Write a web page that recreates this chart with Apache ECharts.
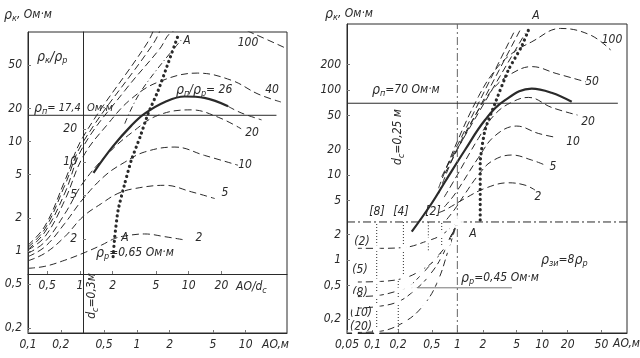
<!DOCTYPE html>
<html><head><meta charset="utf-8">
<script src="https://cdn.jsdelivr.net/npm/echarts@6/dist/echarts.min.js"></script>
<style>html,body{margin:0;padding:0;background:#fff}#c{width:640px;height:358px}</style>
</head><body><div id="c"></div>
<script>
// ---------- tick labels ----------
const L_xTicks = [0.1, 0.2, 0.5, 1, 2, 5, 10];
const L_yTicks = [0.2, 0.5, 1, 2, 5, 10, 20, 50];
const L_xInnerTicks = [0.5, 1, 2, 5, 10, 20];
const L_yInnerTicks = [2, 5, 10, 20];
const R_xTicks = [0.05, 0.1, 0.2, 0.5, 1, 2, 5, 10, 20, 50];
const R_yTicks = [0.2, 0.5, 1, 2, 5, 10, 20, 50, 100, 200];
// ---------- constants written on the chart ----------
const dcLeft = 0.3, rhoRLeft = 0.65, rhoPLeft = 17.4;
const rhoPRight = 70, rhoRRight = 0.47;
// ---------- left panel curves: [AO, rho_k] ----------
const L_c2 = [[0.1,0.70],[0.143,0.73],[0.218,0.83],[0.32,0.96],[0.474,1.14],[0.627,1.31],[0.775,1.38],[1.18,1.44],[1.81,1.36],[2.75,1.27]];
const L_c5 = [[0.1,0.82],[0.143,0.96],[0.218,1.36],[0.32,2.07],[0.474,2.73],[0.67,3.37],[0.96,3.74],[1.81,4.0],[3.17,3.49],[5.2,3.03]];
const L_c10 = [[0.1,0.895],[0.143,1.10],[0.218,1.8],[0.32,3.0],[0.51,4.9],[0.775,6.5],[1.18,8.05],[2.24,8.93],[4.18,7.5],[8.5,6.1]];
const L_c20 = [[0.1,0.96],[0.143,1.22],[0.218,2.2],[0.32,4.2],[0.545,7.8],[0.89,12.0],[1.57,17.4],[3.17,19.5],[5.6,16.7],[9.1,13.1]];
const L_c26 = [[0.40,5.2],[0.6,9.0],[0.89,14.0],[1.18,18.0],[1.81,23.0],[2.75,25.8],[4.18,25.1],[6.9,21.0]];
const L_c26tail = [[6.9,21.0],[9.1,18.3],[14,15.8]];
const L_c40 = [[0.1,1.03],[0.143,1.36],[0.218,2.93],[0.32,7.27],[0.545,14.6],[0.89,24.6],[1.57,34.9],[3.6,42.2],[7.4,36.3],[13.0,27.2],[21.1,23.0]];
const L_c100 = [[0.1,1.04],[0.143,1.5],[0.218,3.4],[0.32,8.95],[0.775,29.2],[1.62,70],[2.08,99.5],[3.2,112],[5.5,118],[8.5,110],[12,96],[24.3,70]];
const L_s1 = [[0.1,1.14],[0.143,1.7],[0.218,4.4],[0.32,11.0],[1.23,77.7],[1.46,110]];
const L_s2 = [[0.1,1.09],[0.143,1.6],[0.218,4.0],[0.32,9.9],[1.41,77.7],[1.68,110]];
const L_sA = [[0.775,14.6],[1.1,29.2],[2.6,86]];
const L_locusA = [[0.606,0.895],[0.627,1.36],[0.673,2.37],[0.775,4.15],[0.89,6.77],[1.07,11.0],[1.27,18.0],[1.57,29.2],[1.93,51.2],[2.39,92.4]];
const L_rhoP = [[0.1,rhoPLeft],[19.2,rhoPLeft]];
// ---------- right panel curves ----------
const R_c2 = [[0.6,3.6],[0.715,3.87],[1.23,5.3],[2.12,6.97],[3.99,8.1],[6.28,7.6],[8.24,6.65]];
const R_c5 = [[0.75,3.0],[0.939,4.0],[1.23,6.0],[1.77,10.0],[2.54,14.5],[4.38,17.2],[7.53,15.0],[10.8,13.1]];
const R_c10 = [[0.7,4.2],[0.939,6.0],[1.77,16.0],[2.78,29.0],[5.0,37.7],[9.0,30.9],[14.6,27.7]];
const R_c20 = [[0.7,5.5],[0.939,9.0],[1.77,27.0],[2.78,52.0],[4.38,72.0],[6.9,82.0],[12.9,62.5],[26.1,50.8]];
const R_solid = [[0.29,2.15],[0.499,4.65],[0.716,8.33],[1.23,19.7],[2.12,44.4],[3.65,76.0],[7.53,104],[12.9,93],[22.3,72.8]];
const R_c50 = [[0.6,6],[0.939,18.0],[1.77,58.1],[2.78,109.6],[4.38,157],[7.53,189],[14.6,157],[32.7,125]];
const R_c100 = [[0.6,7],[0.939,21.6],[1.77,83.6],[2.78,171],[4.38,269],[7.53,370],[16.5,532],[37.0,445],[64.5,295]];
const R_s1 = [[0.654,9.55],[4.79,510]];
const R_s2 = [[0.716,10.5],[5.5,510]];
const R_s3 = [[0.75,12.5],[6.3,465]];
const R_locusA = [[1.86,2.96],[1.86,6.5],[1.86,13.7],[2.12,33.8],[2.78,69.6],[3.99,172],[5.7,324],[6.9,510]];
const R_b2 = [[0.062,1.37],[0.112,1.37],[0.231,1.40],[0.455,1.69],[0.654,1.97],[0.858,2.47],[1,2.8]];
const R_b5 = [[0.062,0.55],[0.112,0.556],[0.231,0.608],[0.38,0.763],[0.545,1.0],[0.716,1.43],[1,2.8]];
const R_b8 = [[0.062,0.37],[0.112,0.38],[0.211,0.44],[0.264,0.48],[0.38,0.68],[0.545,1.02],[0.78,1.6],[1,2.8]];
const R_b10 = [[0.062,0.27],[0.112,0.282],[0.201,0.323],[0.317,0.444],[0.455,0.637],[0.654,1.09],[1,2.8]];
const R_b20 = [[0.062,0.14],[0.112,0.143],[0.241,0.188],[0.416,0.309],[0.596,0.582],[0.783,1.31],[1,2.8]];
const R_v1 = [[0.112,0.138],[0.112,2.8]];
const R_v2 = [[0.231,0.58],[0.231,2.8]];
const R_v3 = [[0.201,0.138],[0.201,0.58]];
const R_v4 = [[0.455,1.3],[0.455,2.8]];
const R_v5 = [[0.654,1.5],[0.654,2.8]];
const R_h = [[0.05,2.8],[100,2.8]];
const R_vert1 = [[1,0.138],[1,600]];
const R_rhoP = [[0.05,rhoPRight],[78,rhoPRight]];
const R_rhoR = [[0.25,rhoRRight],[4.4,rhoRRight]];
const R_bigCircles = [[1,2.8],[0.264,0.48]];

const FONT = "'Liberation Sans Narrow','DejaVu Sans Condensed','Liberation Sans',sans-serif";
const C = '#2a2a2a';
const fmt = v => { const n = Math.round(Number(v)*1000)/1000; return String(n).replace('.', ','); };

function ax(gi, min, max, ticks, pos, extra) {
  return Object.assign({
    type: 'log', gridIndex: gi, min, max, position: pos,
    axisLine: { show: true, onZero: false, lineStyle: { color: C, width: 1 } },
    axisTick: { show: true, inside: true, length: 3, customValues: ticks, lineStyle: { color: '#777' } },
    axisLabel: { customValues: ticks, formatter: fmt, color: C, fontFamily: FONT, fontStyle: 'italic', fontSize: 12, margin: 6 },
    splitLine: { show: false }, minorTick: { show: false }
  }, extra || {});
}

const dash = [7, 4];
function line(xi, yi, data, o) {
  o = o || {};
  return {
    type: 'line', xAxisIndex: xi, yAxisIndex: yi, data, smooth: o.smooth === undefined ? 0.4 : o.smooth,
    showSymbol: !!o.symbol, symbol: o.symbol || 'none', symbolSize: o.symbolSize || 4,
    itemStyle: { color: '#fff', borderColor: C, borderWidth: 0.8 },
    lineStyle: { color: o.color || C, width: o.width || 1, type: o.type || dash, cap: o.cap || 'butt' },
    silent: true, animation: false, z: o.z || 2
  };
}
const dots = { type: [0.1, 5], width: 3.2, cap: 'round', smooth: 0.2 };

const rich = {
  r: { fontSize: 14, fontStyle: 'italic', fontFamily: FONT, fill: C },
  s: { fontSize: 9, fontStyle: 'italic', fontFamily: FONT, fill: C, padding: [7, 0, 0, 0] },
  n: { fontSize: 12, fontStyle: 'italic', fontFamily: FONT, fill: C },
  m: { fontSize: 11, fontStyle: 'italic', fontFamily: FONT, fill: C }
};
function T(x, y, text, o) {
  o = o || {};
  return { type: 'text', x, y, rotation: o.rot || 0, silent: true,
    style: { text: text, fill: C, fontSize: o.size || 12, fontStyle: 'italic', fontFamily: FONT,
      textAlign: o.align || 'center', textVerticalAlign: 'middle', rich } };
}

const texts = [
  T(4, 15, '{r|ρ}{s|к}{n|, Ом·м}', {align:'left'}),
  T(37, 57, '{r|ρ}{s|к}{r|/ρ}{s|р}', {align:'left'}),
  T(34, 108, '{r|ρ}{s|п}{m|= 17,4}', {align:'left'}),
  T(87, 108, 'Ом·м', {align:'left', size: 11}),
  T(176, 90, '{r|ρ}{s|п}{n|/}{r|ρ}{s|р}{n|= 26}', {align:'left'}),
  T(187, 41, 'A'), T(125, 238, 'A'),
  T(248, 43, '100'), T(272, 90, '40'), T(252, 133, '20'), T(245, 165, '10'), T(225, 193, '5'), T(199, 238, '2'),
  T(96, 253, '{r|ρ}{s|р}{n|=0,65 Ом·м}', {align:'left'}),
  T(92, 296, '{n|d}{s|c}{n|=0,3м}', {rot: Math.PI/2}),
  T(236, 287, '{n|AO/d}{s|c}', {align:'left'}),
  T(262, 345, 'AO,м', {align:'left'}),
  T(325, 14, '{r|ρ}{s|к}{n|, Ом·м}', {align:'left'}),
  T(372, 90, '{r|ρ}{s|п}{n|=70 Ом·м}', {align:'left'}),
  T(398, 137, '{n|d}{s|c}{n|=0,25 м}', {rot: Math.PI/2}),
  T(536, 16, 'A'), T(473, 234, 'A'),
  T(612, 40, '100'), T(592, 82, '50'), T(588, 122, '20'), T(573, 142, '10'), T(553, 167, '5'), T(538, 197, '2'),
  T(377, 212, '[8]'), T(401, 212, '[4]'), T(433, 212, '[2]'),
  T(362, 242, '(2)'), T(360, 270, '(5)'), T(360, 293, '(8)'), T(361, 313, '(10)'), T(361, 327, '(20)'),
  T(541, 260, '{r|ρ}{s|зи}{n|=8}{r|ρ}{s|р}', {align:'left'}),
  T(461, 278, '{r|ρ}{s|р}{n|=0,45 Ом·м}', {align:'left'}),
  T(613, 344, 'AO,м', {align:'left'})
];

const option = {
  backgroundColor: '#fff',
  animation: false,
  grid: [
    { left: 28, top: 32, width: 259, height: 301, show: true, borderColor: C, borderWidth: 1, backgroundColor: 'transparent' },
    { left: 347, top: 24, width: 280, height: 309, show: true, borderColor: C, borderWidth: 1, backgroundColor: 'transparent' }
  ],
  xAxis: [
    ax(0, 0.1, 24, L_xTicks, 'bottom'),
    ax(0, 0.1/dcLeft, 24/dcLeft, L_xInnerTicks, 'bottom', { offset: -59 }),
    ax(1, 0.05, 100, R_xTicks, 'bottom')
  ],
  yAxis: [
    ax(0, 0.18, 100, L_yTicks, 'left'),
    ax(0, 0.18/rhoRLeft, 100/rhoRLeft, L_yInnerTicks, 'left', { offset: -55 }),
    ax(1, 0.138, 600, R_yTicks, 'left')
  ],
  graphic: texts,
  series: [
    line(0,0,L_c2), line(0,0,L_c5), line(0,0,L_c10), line(0,0,L_c20),
    line(0,0,L_c26,{type:'solid', width:2.2}), line(0,0,L_c26tail),
    line(0,0,L_c40), line(0,0,L_c100), line(0,0,L_s1), line(0,0,L_s2),
    line(0,0,L_sA,{type:[6,3,1,3]}),
    line(0,0,L_locusA, dots),
    line(0,0,L_rhoP,{type:'solid', smooth:false}),
    line(2,2,R_c2), line(2,2,R_c5), line(2,2,R_c10), line(2,2,R_c20),
    line(2,2,R_solid,{type:'solid', width:2.2}),
    line(2,2,R_c50), line(2,2,R_c100), line(2,2,R_s1,{smooth:false}), line(2,2,R_s2,{smooth:false}), line(2,2,R_s3,{smooth:false}),
    line(2,2,R_locusA, dots),
    line(2,2,R_b2,{symbol:'emptyCircle'}), line(2,2,R_b5,{symbol:'emptyCircle'}), line(2,2,R_b8,{symbol:'emptyCircle'}),
    line(2,2,R_b10,{symbol:'emptyCircle'}), line(2,2,R_b20,{symbol:'emptyCircle'}),
    line(2,2,R_v1,{type:[1,2], smooth:false}), line(2,2,R_v2,{type:[1,2], smooth:false}), line(2,2,R_v3,{type:[1,2], smooth:false}),
    line(2,2,R_v4,{type:[1,2], smooth:false}), line(2,2,R_v5,{type:[1,2], smooth:false}),
    line(2,2,R_h,{type:[8,3,2,3], smooth:false}), line(2,2,R_vert1,{type:[8,3,2,3], smooth:false, color:'#666'}),
    line(2,2,R_rhoP,{type:'solid', smooth:false}), line(2,2,R_rhoR,{type:'solid', smooth:false, color:'#777'}),
    { type:'scatter', xAxisIndex:2, yAxisIndex:2, data:R_bigCircles, symbol:'emptyCircle', symbolSize:11,
      itemStyle:{color:'#fff', borderColor:C, borderWidth:1}, silent:true, z:5 }
  ]
};
const chart = echarts.init(document.getElementById('c'), null, { renderer: 'canvas' });
chart.setOption(option);
</script></body></html>
